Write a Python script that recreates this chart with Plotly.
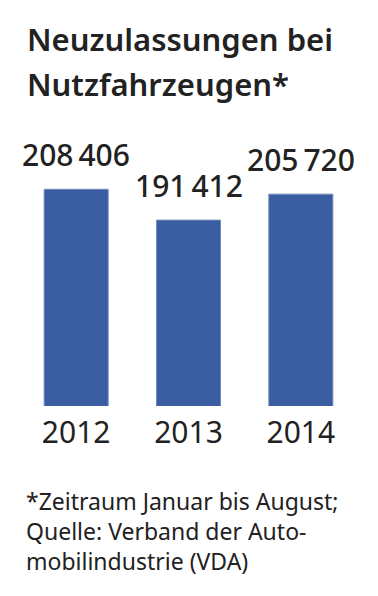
import plotly.graph_objects as go

years = ["2012", "2013", "2014"]
values = [208406, 191412, 205720]
labels = ["208\u202f406", "191\u202f412", "205\u202f720"]
title_lines = ["Neuzulassungen bei", "Nutzfahrzeugen*"]
footnote = "*Zeitraum Januar bis August;<br>Quelle: Verband der Auto-<br>mobilindustrie (VDA)"

W, H = 378, 596
ML, MR, MT, MB = 20, 21, 110, 190
plot_w = W - ML - MR
plot_h = H - MT - MB
FONT = "Noto Sans"
TXT = "#222222"

def py(y_px):
    return (H - MB - y_px) / plot_h

def px(x_px):
    return (x_px - ML) / plot_w

fig = go.Figure()
fig.add_trace(go.Bar(
    x=years, y=values,
    marker=dict(color="#3A5CA0", line=dict(color="#6F8CC0", width=1)),
    hoverinfo="skip",
))

for i, (v, lab) in enumerate(zip(values, labels)):
    fig.add_annotation(x=i, y=v, xref="x", yref="y", text=lab, showarrow=False,
                       yanchor="bottom", yshift=12,
                       font=dict(family=FONT, size=30, color=TXT, weight=500))

for i, line in enumerate(title_lines):
    fig.add_annotation(xref="paper", yref="paper", x=px(25),
                       y=py(62 + i * 45), text=line, showarrow=False,
                       xanchor="left", yanchor="bottom",
                       font=dict(family=FONT, size=31, color=TXT, weight=600))

fig.add_annotation(xref="paper", yref="paper", x=px(24), y=py(483),
                   text=footnote, showarrow=False, xanchor="left", yanchor="top", align="left",
                   font=dict(family=FONT, size=23, color=TXT))

fig.update_layout(
    width=W, height=H,
    margin=dict(l=ML, r=MR, t=MT, b=MB, pad=0, autoexpand=False),
    paper_bgcolor="white", plot_bgcolor="white",
    showlegend=False, bargap=0.43,
    xaxis=dict(type="category", range=[-0.5, 2.5], showgrid=False, zeroline=False,
               showline=False, ticks="", automargin=False,
               tickfont=dict(family=FONT, size=30, color=TXT), ticklabelstandoff=6),
    yaxis=dict(visible=False, range=[88865, 252158], fixedrange=True, automargin=False),
)

fig.write_html("out.html")
